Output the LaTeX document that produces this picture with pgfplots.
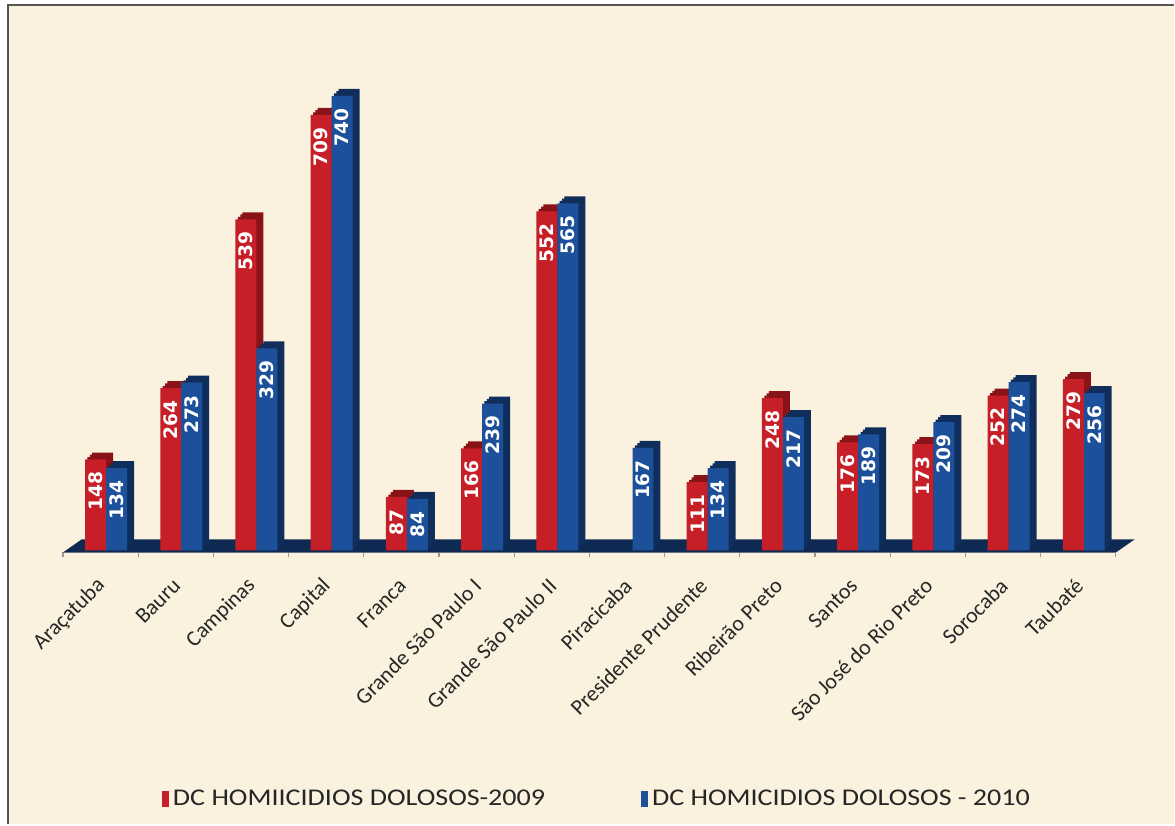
\documentclass[border=0pt]{standalone}
\usepackage{fontspec}
\setmainfont{Carlito}
\newfontfamily\valfont{DejaVu Sans}
\usepackage{graphicx}
\usepackage{pgfplots}
\usepackage{pgfplotstable}
\pgfplotsset{compat=1.18}
\definecolor{cream}{HTML}{FAF2DE}
\definecolor{redf}{HTML}{C71F28}
\definecolor{reds}{HTML}{8A1318}
\definecolor{bluef}{HTML}{1D509A}
\definecolor{blues}{HTML}{102E5C}
\definecolor{floorc}{HTML}{0E2A52}
\definecolor{frame}{HTML}{555555}

\pgfplotstableread{
x r b
0 148 134
1 264 273
2 539 329
3 709 740
4 87 84
5 166 239
6 552 565
7 nan 167
8 111 134
9 248 217
10 176 189
11 173 209
12 252 274
13 279 256
}\data

\begin{document}
\begin{tikzpicture}[x=1pt,y=1pt]
\fill[white] (0,0) rectangle (587.5,412.5);
\fill[cream] (4,0) rectangle (587.5,410);
\draw[frame, line width=1.2pt] (4,0) -- (4,410) -- (587.5,410);
\begin{axis}[
  at={(31.5pt,136pt)}, anchor=south west,
  scale only axis, width=527pt, height=247pt,
  xmin=-0.5, xmax=13.5, ymin=-3.3, ymax=800,
  clip=false,
  hide y axis,
  axis x line=bottom,
  x axis line style={-, draw=gray!80, line width=0.6pt},
  xtick={0,...,13},
  xticklabels={Araçatuba, Bauru, Campinas, Capital, Franca, Grande São Paulo I, Grande São Paulo II, Piracicaba, Presidente Prudente, Ribeirão Preto, Santos, São José do Rio Preto, Sorocaba, Taubaté},
  major tick length=0pt,
  minor xtick={-0.5,0.5,...,13.5},
  minor x tick style={draw=gray!80, line width=0.6pt},
  minor tick length=2.5pt,
  tick align=outside,
  xticklabel style={xshift=3pt, yshift=-12.5pt, rotate=45, anchor=east, font=\fontsize{11}{12}\selectfont, text=black!85},
  /pgf/number format/assume math mode=true,
  legend columns=2,
  legend style={at={(0.088,-0.5)}, anchor=west, draw=none, fill=none,
    font=\fontsize{12}{14}\selectfont, text=black!85,
    /tikz/every even column/.append style={column sep=46pt}},
]
% floor
\addplot[fill=floorc, draw=none, forget plot] coordinates {(-0.5,-3.3) (13.5,-3.3) (13.75,18) (-0.25,18)};
% red 3D depth
\addplot[ybar, bar width=10.5pt, bar shift=-1.3pt, yshift=1.2pt, fill=reds, draw=none, forget plot] table[x=x,y=r]{\data};
\addplot[ybar, bar width=10.5pt, bar shift=-0.1pt, yshift=2.4pt, fill=reds, draw=none, forget plot] table[x=x,y=r]{\data};
\addplot[ybar, bar width=10.5pt, bar shift=1pt, yshift=3.5pt, fill=reds, draw=none, forget plot] table[x=x,y=r]{\data};
% red front
\addplot[ybar, bar width=10.5pt, bar shift=-2.5pt, fill=redf, draw=none,
  nodes near coords,
  every node near coord/.append style={xshift=-2.5pt, rotate=90, anchor=east, text=white, inner xsep=6pt, inner ysep=1pt, font=\valfont\bfseries\fontsize{9.3}{10}\selectfont},
  legend image code/.code={\fill[redf] (0pt,-4pt) rectangle (3.5pt,4pt);}] table[x=x,y=r]{\data};
\addlegendentry{\scalebox{1.17}[1]{DC HOMIICIDIOS DOLOSOS-2009}}
% blue 3D depth
\addplot[ybar, bar width=10.5pt, bar shift=9.2pt, yshift=1.2pt, fill=blues, draw=none, forget plot] table[x=x,y=b]{\data};
\addplot[ybar, bar width=10.5pt, bar shift=10.4pt, yshift=2.4pt, fill=blues, draw=none, forget plot] table[x=x,y=b]{\data};
\addplot[ybar, bar width=10.5pt, bar shift=11.5pt, yshift=3.5pt, fill=blues, draw=none, forget plot] table[x=x,y=b]{\data};
% blue front
\addplot[ybar, bar width=10.5pt, bar shift=8pt, fill=bluef, draw=none,
  nodes near coords,
  every node near coord/.append style={xshift=8pt, rotate=90, anchor=east, text=white, inner xsep=6pt, inner ysep=1pt, font=\valfont\bfseries\fontsize{9.3}{10}\selectfont},
  legend image code/.code={\fill[bluef] (0pt,-4pt) rectangle (3.5pt,4pt);}] table[x=x,y=b]{\data};
\addlegendentry{\scalebox{1.17}[1]{DC HOMICIDIOS DOLOSOS - 2010}}
\end{axis}
\end{tikzpicture}
\end{document}
